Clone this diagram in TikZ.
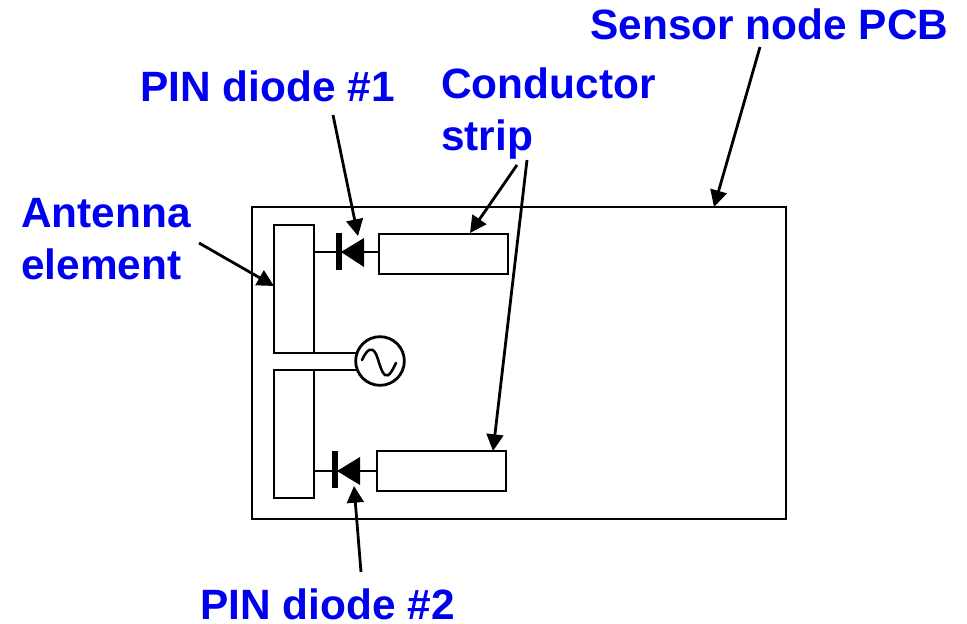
\documentclass[tikz,border=0pt]{standalone}
\usepackage{fontspec}
\setmainfont{Liberation Sans}
\usetikzlibrary{arrows.meta}
\definecolor{lblue}{RGB}{0,0,240}
\tikzset{
  x=0.75pt,y=-0.75pt,
  lab/.style={font=\fontsize{31.8}{39}\selectfont\bfseries,text=lblue,inner sep=0pt,align=left},
  wire/.style={draw=black,line width=2.1pt},
  box/.style={draw=black,line width=2.1pt,fill=white,minimum width=0pt,inner sep=0pt},
  pointer/.style={draw=black,line width=2.1pt,-{Triangle[length=12.5pt,width=12.5pt]},shorten >=0pt},
  dtri/.style={fill=black,draw=none},
  dbar/.style={fill=black,draw=none}
}
\newcommand{\rectnode}[5]{\path (#2,#3) coordinate (#1-a) (#4,#5) coordinate (#1-b);
  \draw[box] (#1-a) rectangle (#1-b);}
\begin{document}
\begin{tikzpicture}
\useasboundingbox (0,0) rectangle (967,624);
\rectnode{pcb}{252}{207}{786}{519}
\rectnode{ant1}{274}{225}{314}{353}
\rectnode{ant2}{274}{370}{314}{498}
\rectnode{strip1}{379}{234}{508}{274}
\rectnode{strip2}{377}{451}{506}{491}
% wires
\draw[wire] (314,252) -- (379,252);
\draw[wire] (314,471) -- (377,471);
\node[circle,draw=black,line width=2.1pt,fill=white,minimum size=36.5pt,inner sep=0pt] (src) at (380,361) {};
\draw[wire] (ant1-b) -- (356,353);
\draw[wire] (274,370) -- (356,370);
\draw[line width=1.9pt,line cap=round] (362,360) .. controls (367,349) and (372,346) .. (376,354) .. controls (379,361) and (381,372) .. (385,375) .. controls (389,378) and (393,369) .. (396,363);
% diodes
\fill[dtri] (341,252) -- (364,238) -- (364,267) -- cycle;
\fill[dbar] (336,233) rectangle (341.5,270);
\fill[dtri] (337,471) -- (360,457) -- (360,485) -- cycle;
\fill[dbar] (332,451) rectangle (337.5,488);
% labels
\node[lab,anchor=base west] (sensor) at (590,40) {Sensor node PCB};
\node[lab,anchor=base west] (pin1) at (140,101.5) {PIN diode \#1};
\node[lab,anchor=base west] (cond1) at (441,99) {Conductor};
\node[lab,anchor=base west] (cond2) at (441,151) {strip};
\node[lab,anchor=base west] (ant1t) at (21,227) {Antenna};
\node[lab,anchor=base west] (ant2t) at (21,279) {element};
\node[lab,anchor=base west] (pin2) at (200,619) {PIN diode \#2};
% pointers
\coordinate (p1s) at (760,47); \coordinate (p1e) at (714,207);
\coordinate (p2s) at (333,115); \coordinate (p2e) at (358,236);
\coordinate (p3s) at (517,165); \coordinate (p3e) at (470,233);
\coordinate (p4s) at (527,160); \coordinate (p4e) at (493,451);
\coordinate (p5s) at (199,243); \coordinate (p5e) at (274,286);
\coordinate (p6s) at (361,572); \coordinate (p6e) at (354,486);
\draw[pointer] (p1s) -- (p1e);
\draw[pointer] (p2s) -- (p2e);
\draw[pointer] (p3s) -- (p3e);
\draw[pointer] (p4s) -- (p4e);
\draw[pointer] (p5s) -- (p5e);
\draw[pointer] (p6s) -- (p6e);
\end{tikzpicture}
\end{document}
